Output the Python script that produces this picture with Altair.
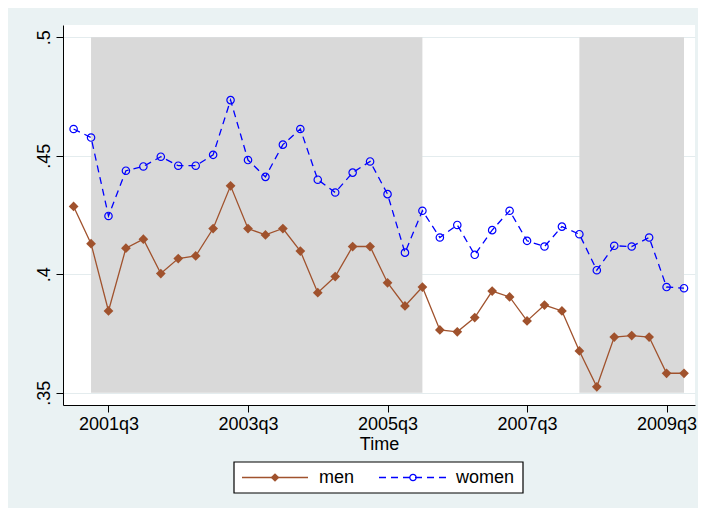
import altair as alt
import pandas as pd

# quarter index 0 = 2001q1 ... 35 = 2009q4
quarters = [f"{2001 + i // 4}q{i % 4 + 1}" for i in range(36)]

men = [0.4286, 0.4129, 0.3845, 0.4110, 0.4148, 0.4003, 0.4066, 0.4077, 0.4193, 0.4373,
       0.4193, 0.4166, 0.4193, 0.4098, 0.3922, 0.3990, 0.4117, 0.4117, 0.3964, 0.3866,
       0.3946, 0.3765, 0.3757, 0.3817, 0.3929, 0.3904, 0.3803, 0.3870, 0.3845, 0.3676,
       0.3525, 0.3735, 0.3741, 0.3735, 0.3582, 0.3582]

women = [0.4613, 0.4577, 0.4246, 0.4437, 0.4455, 0.4496, 0.4458, 0.4458, 0.4504, 0.4735,
         0.4482, 0.4411, 0.4547, 0.4613, 0.4399, 0.4345, 0.4429, 0.4476, 0.4338, 0.4091,
         0.4268, 0.4155, 0.4208, 0.4082, 0.4186, 0.4268, 0.4141, 0.4117, 0.4201, 0.4169,
         0.4017, 0.4120, 0.4117, 0.4155, 0.3946, 0.3941]

shade_start = [1, 29]
shade_end = [20, 35]
shade_top = [0.5, 0.5]
shade_bottom = [0.35, 0.35]

x_tick_values = [2, 10, 18, 26, 34]
y_tick_values = [0.35, 0.4, 0.45, 0.5]

BROWN = "#A0522D"
BLUE = "#0000FF"
FONT = "Liberation Sans"

men_df = pd.DataFrame({"t": list(range(36)), "v": men, "q": quarters})
women_df = pd.DataFrame({"t": list(range(36)), "v": women, "q": quarters})
shade_df = pd.DataFrame({"s": shade_start, "e": shade_end, "top": shade_top, "bot": shade_bottom})
one = pd.DataFrame({"k": [0]})

xscale = alt.Scale(domain=[-0.608, 35.63], nice=False, zero=False)
yscale = alt.Scale(domain=[0.3448, 0.5052], nice=False, zero=False)

label_list = "[" + ",".join(f"'{quarters[v]}'" for v in x_tick_values) + "]"
val_list = "[" + ",".join(str(v) for v in x_tick_values) + "]"

xaxis = alt.Axis(values=x_tick_values,
                 labelExpr=f"{label_list}[indexof({val_list}, datum.value)]",
                 title="Time", grid=False, domainColor="black", tickColor="black",
                 tickSize=7, labelFontSize=18, labelFont=FONT, labelColor="black",
                 titleFont=FONT, titleFontSize=18, titleFontWeight="normal",
                 titleColor="black", titlePadding=2, labelPadding=3,
                 labelFlush=False, labelOverlap=False)
yaxis = alt.Axis(values=y_tick_values,
                 labelExpr="substring(format(datum.value, '.2~f'), 1)",
                 title=None, grid=True, gridColor="#E4ECEE", gridWidth=1,
                 domainColor="black", tickColor="black", tickSize=7,
                 labelAngle=270, labelAlign="center", labelBaseline="bottom",
                 labelFontSize=18, labelFont=FONT, labelColor="black",
                 labelPadding=3, labelFlush=False, labelOverlap=False)

shade = alt.Chart(shade_df).mark_rect(color="#D9D9D9").encode(
    x=alt.X("s:Q", scale=xscale, axis=xaxis), x2="e:Q",
    y=alt.Y("top:Q", scale=yscale, axis=yaxis), y2="bot:Q")

men_line = alt.Chart(men_df).mark_line(color=BROWN, strokeWidth=1.3).encode(
    x=alt.X("t:Q", scale=xscale), y=alt.Y("v:Q", scale=yscale))
men_pts = alt.Chart(men_df).mark_point(shape="diamond", filled=True, size=95,
                                        color=BROWN, opacity=1).encode(
    x=alt.X("t:Q", scale=xscale), y=alt.Y("v:Q", scale=yscale))

women_line = alt.Chart(women_df).mark_line(color=BLUE, strokeWidth=1.3,
                                           strokeDash=[7, 5]).encode(
    x=alt.X("t:Q", scale=xscale), y=alt.Y("v:Q", scale=yscale))
women_pts = alt.Chart(women_df).mark_point(shape="circle", filled=False, size=55,
                                           color=BLUE, strokeWidth=1.2, opacity=1).encode(
    x=alt.X("t:Q", scale=xscale), y=alt.Y("v:Q", scale=yscale))

# legend (drawn below the plot)
LY = 452.5
box = alt.Chart(one).mark_rect(fill="white", stroke="black", strokeWidth=1.2).encode(
    x=alt.value(171), x2=alt.value(460), y=alt.value(437), y2=alt.value(468))
lg_men_rule = alt.Chart(one).mark_rule(color=BROWN, strokeWidth=1.3).encode(
    x=alt.value(179), x2=alt.value(245), y=alt.value(LY))
lg_men_pt = alt.Chart(one).mark_point(shape="diamond", filled=True, size=75,
                                      color=BROWN, opacity=1).encode(
    x=alt.value(212), y=alt.value(LY))
lg_men_txt = alt.Chart(one).mark_text(text="men", align="left", baseline="middle",
                                      font=FONT, fontSize=18, color="black").encode(
    x=alt.value(256), y=alt.value(LY))
lg_w_rule = alt.Chart(one).mark_rule(color=BLUE, strokeWidth=1.3, strokeDash=[7, 5]).encode(
    x=alt.value(316), x2=alt.value(384), y=alt.value(LY))
lg_w_pt = alt.Chart(one).mark_point(shape="circle", filled=False, size=40,
                                    color=BLUE, strokeWidth=1.2, opacity=1).encode(
    x=alt.value(350), y=alt.value(LY))
lg_w_txt = alt.Chart(one).mark_text(text="women", align="left", baseline="middle",
                                    font=FONT, fontSize=18, color="black").encode(
    x=alt.value(393), y=alt.value(LY))

chart = alt.layer(
    shade, men_line, men_pts, women_line, women_pts,
    box, lg_men_rule, lg_men_pt, lg_men_txt, lg_w_rule, lg_w_pt, lg_w_txt
).properties(
    width=632, height=380,
    autosize=alt.AutoSizeParams(type="none"),
    padding={"left": 55, "top": 17, "right": 3, "bottom": 103},
    background="#EAF2F3",
).configure_view(fill="white", stroke=None)

chart.save("out.html", embed_options={"renderer": "svg", "actions": False})
